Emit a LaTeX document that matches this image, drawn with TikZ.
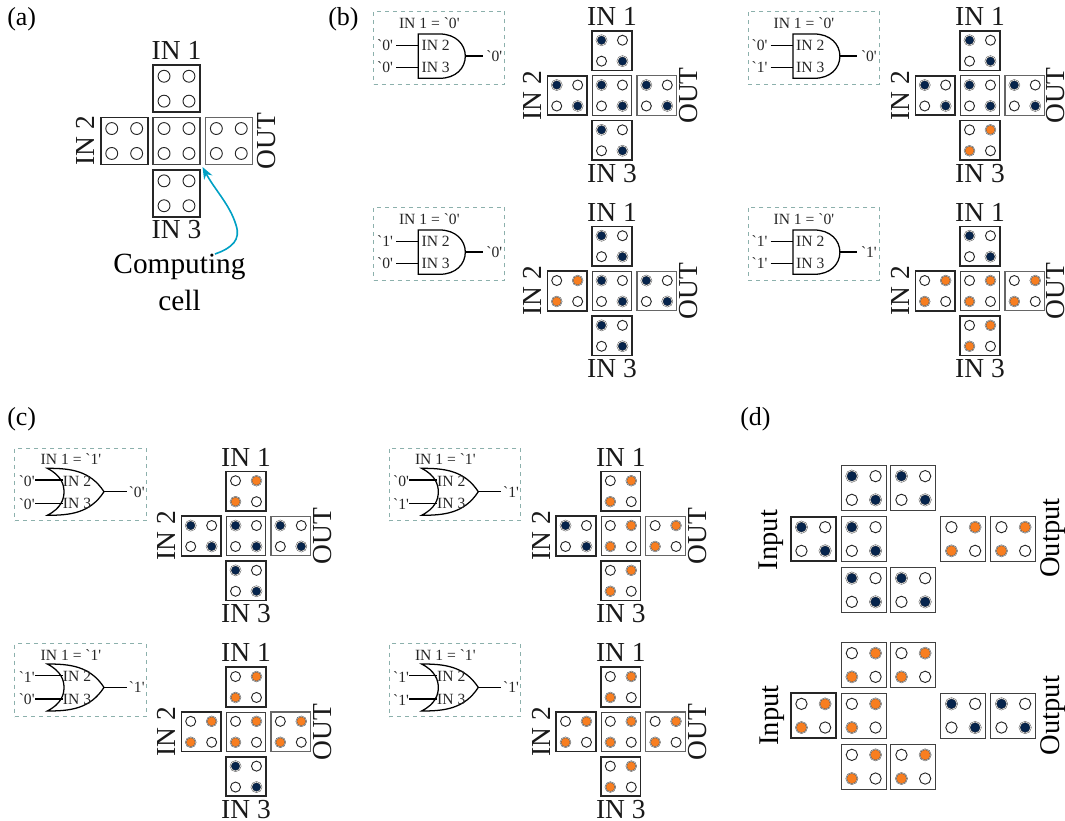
\documentclass[tikz,border=0pt]{standalone}
\usepackage{fontspec}
\setmainfont{Liberation Serif}
\newfontfamily\gatefont{Liberation Serif}
\definecolor{darknavy}{RGB}{6,36,76}
\definecolor{cellorange}{RGB}{248,126,32}
\definecolor{boxteal}{RGB}{140,176,172}
\definecolor{arrowcyan}{RGB}{0,160,196}
\usetikzlibrary{calc, positioning, arrows.meta}
\newcommand{\cs}{39.5}
\newcommand{\gap}{44.8}
\newcommand{\outgap}{2.4}
\newcommand{\qcell}[5]{%
  \node[#4, minimum size=\cs*0.75pt] (#1) at (#2,#3) {};
  \foreach \dx/\dy/\dpos/\ddiag in {-1/-1/tl/A, 1/-1/tr/B, -1/1/bl/B, 1/1/br/A}
    \node[dot#5\ddiag] (#1\dpos) at ($(#1)+(\dx*\cs*0.265,\dy*\cs*0.265)$) {};
}
\newcommand{\crossunit}[8]{%
  \qcell{#1mid}{#2}{#3}{midcell}{#7}
  \qcell{#1up}{#2}{#3-\gap}{incell}{#4}
  \qcell{#1left}{#2-\gap}{#3}{incell}{#5}
  \qcell{#1down}{#2}{#3+\gap}{incell}{#6}
  \qcell{#1right}{#2+\gap}{#3}{outcell}{#8}
  \node[celltext, above=3.2pt of #1up] (#1a) {IN 1};
  \node[celltext, below=2pt of #1down] (#1b) {IN 3};
  \node[celltext, rotate=90, anchor=south] (#1c) at ($(#1left.west)+(-5,0)$) {IN 2};
  \node[celltext, rotate=90, anchor=north] (#1d) at ($(#1right.east)+(\outgap,0)$) {OUT};
}
\newcommand{\andgate}[7]{%
  \begin{scope}[shift={(#2,#3)}]
    \node[gatebox] (#1box) at (65.5,36.4) {};
    \node[gatetext] (#1top) at (55.6,11.4) {IN 1 = `#4'};
    \draw[wire] (44.6,22.7) -- (66,22.7) .. controls (82,22.7) and (91.6,33) .. (91.6,44.8)
      .. controls (91.6,57) and (82,67) .. (66,67) -- (44.6,67) -- cycle;
    \coordinate (#1ua) at (22.3,34);
    \coordinate (#1ub) at (44.6,34);
    \coordinate (#1va) at (22.3,56.4);
    \coordinate (#1vb) at (44.6,56.4);
    \coordinate (#1wa) at (91.6,44.8);
    \coordinate (#1wb) at (109,44.8);
    \draw[wire] (#1ua) -- (#1ub);
    \draw[wire] (#1va) -- (#1vb);
    \draw[wire] (#1wa) -- (#1wb);
    \node[gatetext] (#1p) at (62,34.2) {IN 2};
    \node[gatetext] (#1q) at (62,56.6) {IN 3};
    \node[gatetext] (#1r) at (11.3,34) {`#5'};
    \node[gatetext] (#1s) at (11.3,56.2) {`#6'};
    \node[gatetext] (#1t) at (120.6,44.6) {`#7'};
  \end{scope}
}
\newcommand{\orgate}[7]{%
  \begin{scope}[shift={(#2,#3)}]
    \node[gatebox] (#1box) at (65.5,36.2) {};
    \node[gatetext] (#1top) at (56,10.7) {IN 1 = `#4'};
    \draw[wire] (32.3,20) .. controls (55,20) and (75,22) .. (89,43.4)
      .. controls (75,65) and (55,67) .. (32.3,67)
      .. controls (46,60) and (49,51) .. (49,43.5)
      .. controls (49,36) and (46,27) .. (32.3,20) -- cycle;
    \coordinate (#1ua) at (20,31.7);
    \coordinate (#1ub) at (47.5,31.7);
    \coordinate (#1va) at (20,55);
    \coordinate (#1vb) at (47.5,55);
    \coordinate (#1wa) at (89,43.4);
    \coordinate (#1wb) at (112,43.4);
    \draw[wire] (#1ua) -- (#1ub);
    \draw[wire] (#1va) -- (#1vb);
    \draw[wire] (#1wa) -- (#1wb);
    \node[gatetext] (#1p) at (62,32.6) {IN 2};
    \node[gatetext] (#1q) at (62,55.6) {IN 3};
    \node[gatetext] (#1r) at (11.7,32.6) {`#5'};
    \node[gatetext] (#1s) at (11.7,55.6) {`#6'};
    \node[gatetext] (#1t) at (121.7,43.4) {`#7'};
  \end{scope}
}
\begin{document}
\begin{tikzpicture}[
    x=0.75pt, y=-0.75pt,
    incell/.style={draw=black!85, line width=1.3pt, fill=white, inner sep=0pt},
    midcell/.style={draw=black!75, line width=0.8pt, fill=white, inner sep=0pt},
    outcell/.style={draw=black!60, line width=0.85pt, fill=white, inner sep=0pt},
    emptydot/.style={circle, draw=black!85, line width=0.7pt, fill=white, inner sep=0pt, minimum size=\cs*0.19pt},
    dotnA/.style={emptydot}, dotnB/.style={emptydot},
    dotbA/.style={circle, draw=black!70, line width=0.35pt, double=white, double distance=0.4pt,
      fill=darknavy, inner sep=0pt, minimum size=\cs*0.19pt},
    dotbB/.style={emptydot}, dotoA/.style={emptydot},
    dotoB/.style={circle, draw=black!70, line width=0.35pt, double=white, double distance=0.2pt,
      fill=cellorange, inner sep=0pt, minimum size=\cs*0.19pt},
    celltext/.style={font=\fontsize{20.6}{24}\selectfont, inner sep=0pt, text=black!90},
    paneltext/.style={font=\fontsize{19.5}{24}\selectfont, inner sep=0pt, anchor=base west},
    sidetext/.style={font=\fontsize{21.4}{24}\selectfont, inner sep=0pt, rotate=90},
    gatetext/.style={font=\gatefont\fontsize{11.7}{14}\selectfont, inner sep=0pt, text=black!85},
    gatebox/.style={draw=boxteal, dashed, line width=0.6pt, minimum width=98.5pt, minimum height=54.5pt, inner sep=0pt},
    wire/.style={black, line width=0.95pt},
    callout/.style={-{Stealth[length=9pt, width=7pt]}, arrowcyan, line width=1.2pt},
  ]
    \useasboundingbox (0,0) rectangle (1065,821);
    \node[paneltext] (pa) at (7,26) {(a)};
    \node[paneltext] (pb) at (328,26) {(b)};
    \node[paneltext] (pc) at (7,425) {(c)};
    \node[paneltext] (pd) at (740,425) {(d)};

    \renewcommand{\cs}{47}
    \renewcommand{\gap}{52.3}
    \renewcommand{\outgap}{4.5}
    \crossunit{a}{176.5}{141}{n}{n}{n}{n}{n}
    \node[font=\fontsize{22}{27.75}\selectfont, inner sep=0pt, align=center] (cc) at (179.5,282) {Computing\\cell};
    \coordinate (cctail) at (215,254);
    \draw[callout] (cctail) .. controls (232,248) and (241,240) .. (236,225)
      .. controls (230,205) and (215,190) .. ($(amid.south east)+(2,2)$);

    \renewcommand{\cs}{39.5}
    \renewcommand{\gap}{44.8}
    \renewcommand{\outgap}{2.4}
    \andgate{gba}{373.7}{11.3}{0}{0}{0}{0}
    \crossunit{ba}{612}{95.5}{b}{b}{b}{b}{b}
    \andgate{gbc}{373.7}{207.3}{0}{1}{0}{0}
    \crossunit{bc}{612}{291}{b}{o}{b}{b}{b}
    \orgate{gca}{15}{448.3}{1}{0}{0}{0}
    \crossunit{ca}{246}{536}{o}{b}{b}{b}{b}
    \orgate{gcb}{389.3}{448.3}{1}{0}{1}{1}
    \crossunit{cb}{620.8}{536}{o}{b}{o}{o}{o}
    \orgate{gcc}{15}{644}{1}{1}{0}{1}
    \crossunit{cc}{246}{731.8}{o}{o}{b}{o}{o}
    \orgate{gcd}{389.3}{644}{1}{1}{1}{1}
    \crossunit{cd}{620.8}{731.8}{o}{o}{o}{o}{o}

    \renewcommand{\outgap}{0.6}
    \andgate{gbb}{748.3}{11.3}{0}{0}{1}{0}
    \crossunit{bb}{980}{95.5}{b}{b}{o}{b}{b}
    \andgate{gbd}{748.3}{207.3}{0}{1}{1}{1}
    \crossunit{bd}{980}{291}{b}{o}{o}{o}{o}

    \renewcommand{\cs}{44.7}
    \qcell{dain}{813.3}{539}{incell}{b}
    \qcell{daul}{863.7}{488}{midcell}{b}
    \qcell{daur}{913.3}{488}{midcell}{b}
    \qcell{dam}{863.7}{539}{midcell}{b}
    \qcell{dadl}{863.7}{590}{midcell}{b}
    \qcell{dadr}{913.3}{590}{midcell}{b}
    \qcell{daoa}{963.3}{539}{midcell}{o}
    \qcell{daob}{1013.3}{539}{midcell}{o}
    \node[sidetext] (dai) at (771,540) {Input};
    \node[sidetext] (dao) at (1053.5,538) {Output};

    \qcell{dbin}{813.3}{715.7}{incell}{o}
    \qcell{dbul}{863.7}{665}{midcell}{o}
    \qcell{dbur}{913.3}{665}{midcell}{o}
    \qcell{dbm}{863.7}{715.7}{midcell}{o}
    \qcell{dbdl}{863.7}{766.7}{midcell}{o}
    \qcell{dbdr}{913.3}{766.7}{midcell}{o}
    \qcell{dboa}{963.3}{715.7}{midcell}{b}
    \qcell{dbob}{1013.3}{715.7}{midcell}{b}
    \node[sidetext] (dbi) at (772,715.5) {Input};
    \node[sidetext] (dbo) at (1053.5,715.5) {Output};
  \end{tikzpicture}
\end{document}
